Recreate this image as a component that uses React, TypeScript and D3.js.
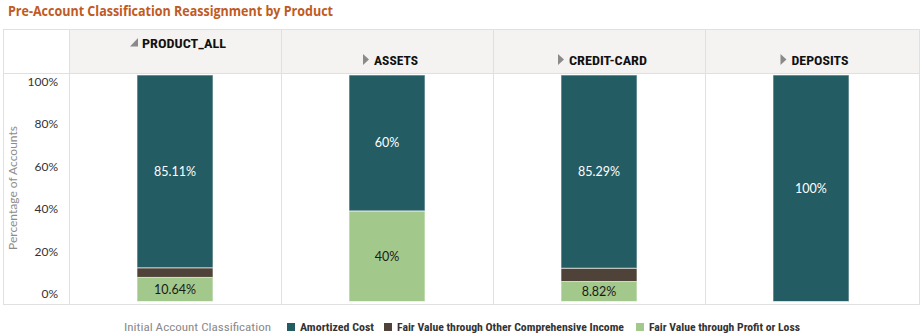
import React from "react";
import * as d3 from "d3";

const products = ["PRODUCT_ALL", "ASSETS", "CREDIT-CARD", "DEPOSITS"];
const amortizedCost = [85.11, 60, 85.29, 100];
const fvoci = [4.25, 0, 5.89, 0];
const fvpl = [10.64, 40, 8.82, 0];
const seriesNames = [
  "Amortized Cost",
  "Fair Value through Other Comprehensive Income",
  "Fair Value through Profit or Loss",
];
const seriesColors = ["#245c64", "#4f4339", "#a2c98b"];
const tickValues = [0, 20, 40, 60, 80, 100];

const W = 922;
const H = 334;
const boxL = 3;
const boxR = 919;
const boxT = 29;
const headB = 73;
const boxB = 304;
const axisW = 69;
const barW = 76;

const condensed = "'Liberation Sans Narrow', 'Roboto Condensed', Roboto, sans-serif";

export default function App() {
  const x = d3.scaleBand<string>().domain(products).range([axisW, boxR - 2]).padding(0);
  const y = d3.scaleLinear().domain([0, 100]).range([301.5, 75]);
  const yLabel = d3.scaleLinear().domain([0, 100]).range([294, 81.5]);

  const rows = products.map((p, i) => ({
    product: p,
    fvpl: fvpl[i],
    fvoci: fvoci[i],
    amortized: amortizedCost[i],
  }));
  const stack = d3.stack<any>().keys(["fvpl", "fvoci", "amortized"]);
  const layers = stack(rows);
  const colorFor: Record<string, string> = {
    amortized: seriesColors[0],
    fvoci: seriesColors[1],
    fvpl: seriesColors[2],
  };
  const labelColor: Record<string, string> = {
    amortized: "#ffffff",
    fvoci: "#ffffff",
    fvpl: "#1a1a1a",
  };

  const legendItems = [
    { name: seriesNames[0], color: seriesColors[0], x: 287, w: 74 },
    { name: seriesNames[1], color: seriesColors[1], x: 384, w: 227 },
    { name: seriesNames[2], color: seriesColors[2], x: 636, w: 151 },
  ];

  return (
    <svg
      width={W}
      height={H}
      style={{ position: "absolute", left: 0, top: 0, background: "#fff" }}
      fontFamily="Lato, sans-serif"
    >
      <text
        x={8}
        y={16}
        fontSize={13.5}
        fontWeight="bold"
        fill="#c05a22"
        fontFamily="'Open Sans', sans-serif"
        textLength={325}
        lengthAdjust="spacingAndGlyphs"
      >
        Pre-Account Classification Reassignment by Product
      </text>

      {/* header background */}
      <rect x={axisW} y={boxT} width={boxR - axisW} height={headB - boxT} fill="#f4f3f2" />
      {/* box */}
      <rect x={boxL + 0.5} y={boxT + 0.5} width={boxR - boxL} height={boxB - boxT} fill="none" stroke="#e0e0e0" />
      <line x1={boxL} x2={boxR} y1={headB + 0.5} y2={headB + 0.5} stroke="#e0e0e0" />
      {products.map((p) => (
        <line
          key={"sep" + p}
          x1={(x(p) as number) + 0.5}
          x2={(x(p) as number) + 0.5}
          y1={boxT}
          y2={boxB}
          stroke="#e0e0e0"
        />
      ))}

      {/* headers */}
      {products.map((p, i) => {
        const cx = (x(p) as number) + x.bandwidth() / 2;
        if (i === 0) {
          return (
            <g key={"h" + p}>
              <path d={`M${cx - 45},${46.5} L${cx - 37},${46.5} L${cx - 37},${38} Z`} fill="#8a8a8a" />
              <text x={cx - 33} y={47.5} fontSize={13} fontWeight="bold" fill="#111" fontFamily={condensed} textLength={84} lengthAdjust="spacingAndGlyphs">
                {p}
              </text>
            </g>
          );
        }
        const tw = p === "ASSETS" ? 44 : p === "CREDIT-CARD" ? 78 : 57;
        const tx = cx - tw / 2 + 9;
        return (
          <g key={"h" + p}>
            <path d={`M${tx - 11},${54} L${tx - 5},${59.5} L${tx - 11},${65} Z`} fill="#8a8a8a" />
            <text x={tx} y={64.5} fontSize={13} fontWeight="bold" fill="#111" fontFamily={condensed} textLength={tw} lengthAdjust="spacingAndGlyphs">
              {p}
            </text>
          </g>
        );
      })}

      {/* y axis */}
      {tickValues.map((t) => (
        <text key={"t" + t} x={58} y={yLabel(t)} dy="0.35em" textAnchor="end" fontSize={12} fill="#333">
          {t}%
        </text>
      ))}
      <text
        transform={`translate(${13},${188}) rotate(-90)`}
        textAnchor="middle"
        dy="0.35em"
        fontSize={12}
        fill="#8c8c8c"
      >
        Percentage of Accounts
      </text>

      {/* bars */}
      {layers.map((layer) => (
        <g key={layer.key}>
          {layer.map((d, i) => {
            const v = d[1] - d[0];
            if (v <= 0) return null;
            const cx = (x(products[i]) as number) + x.bandwidth() / 2;
            const y0 = y(d[0]);
            const y1 = y(d[1]);
            return (
              <g key={layer.key + i}>
                <rect
                  x={cx - barW / 2}
                  y={y1}
                  width={barW}
                  height={y0 - y1}
                  fill={colorFor[layer.key]}
                  stroke="rgba(255,255,255,0.6)"
                  strokeWidth={1}
                />
                {y0 - y1 > 15 && (
                  <text
                    x={cx}
                    y={(y0 + y1) / 2}
                    dy="0.35em"
                    textAnchor="middle"
                    fontSize={12.5}
                    fill={labelColor[layer.key]}
                  >
                    {`${v.toFixed(2).replace(/\.?0+$/, "")}%`}
                  </text>
                )}
              </g>
            );
          })}
        </g>
      ))}

      {/* legend */}
      <text x={124} y={327} dy="0.35em" fontSize={11.5} fill="#8a8a8a" fontFamily={condensed} textLength={147} lengthAdjust="spacingAndGlyphs">
        Initial Account Classification
      </text>
      {legendItems.map((it) => (
        <g key={it.name}>
          <rect x={it.x} y={323} width={8} height={8} fill={it.color} />
          <text x={it.x + 13} y={327} dy="0.35em" fontSize={11} fontWeight="bold" fill="#333" fontFamily={condensed} textLength={it.w} lengthAdjust="spacingAndGlyphs">
            {it.name}
          </text>
        </g>
      ))}
    </svg>
  );
}
